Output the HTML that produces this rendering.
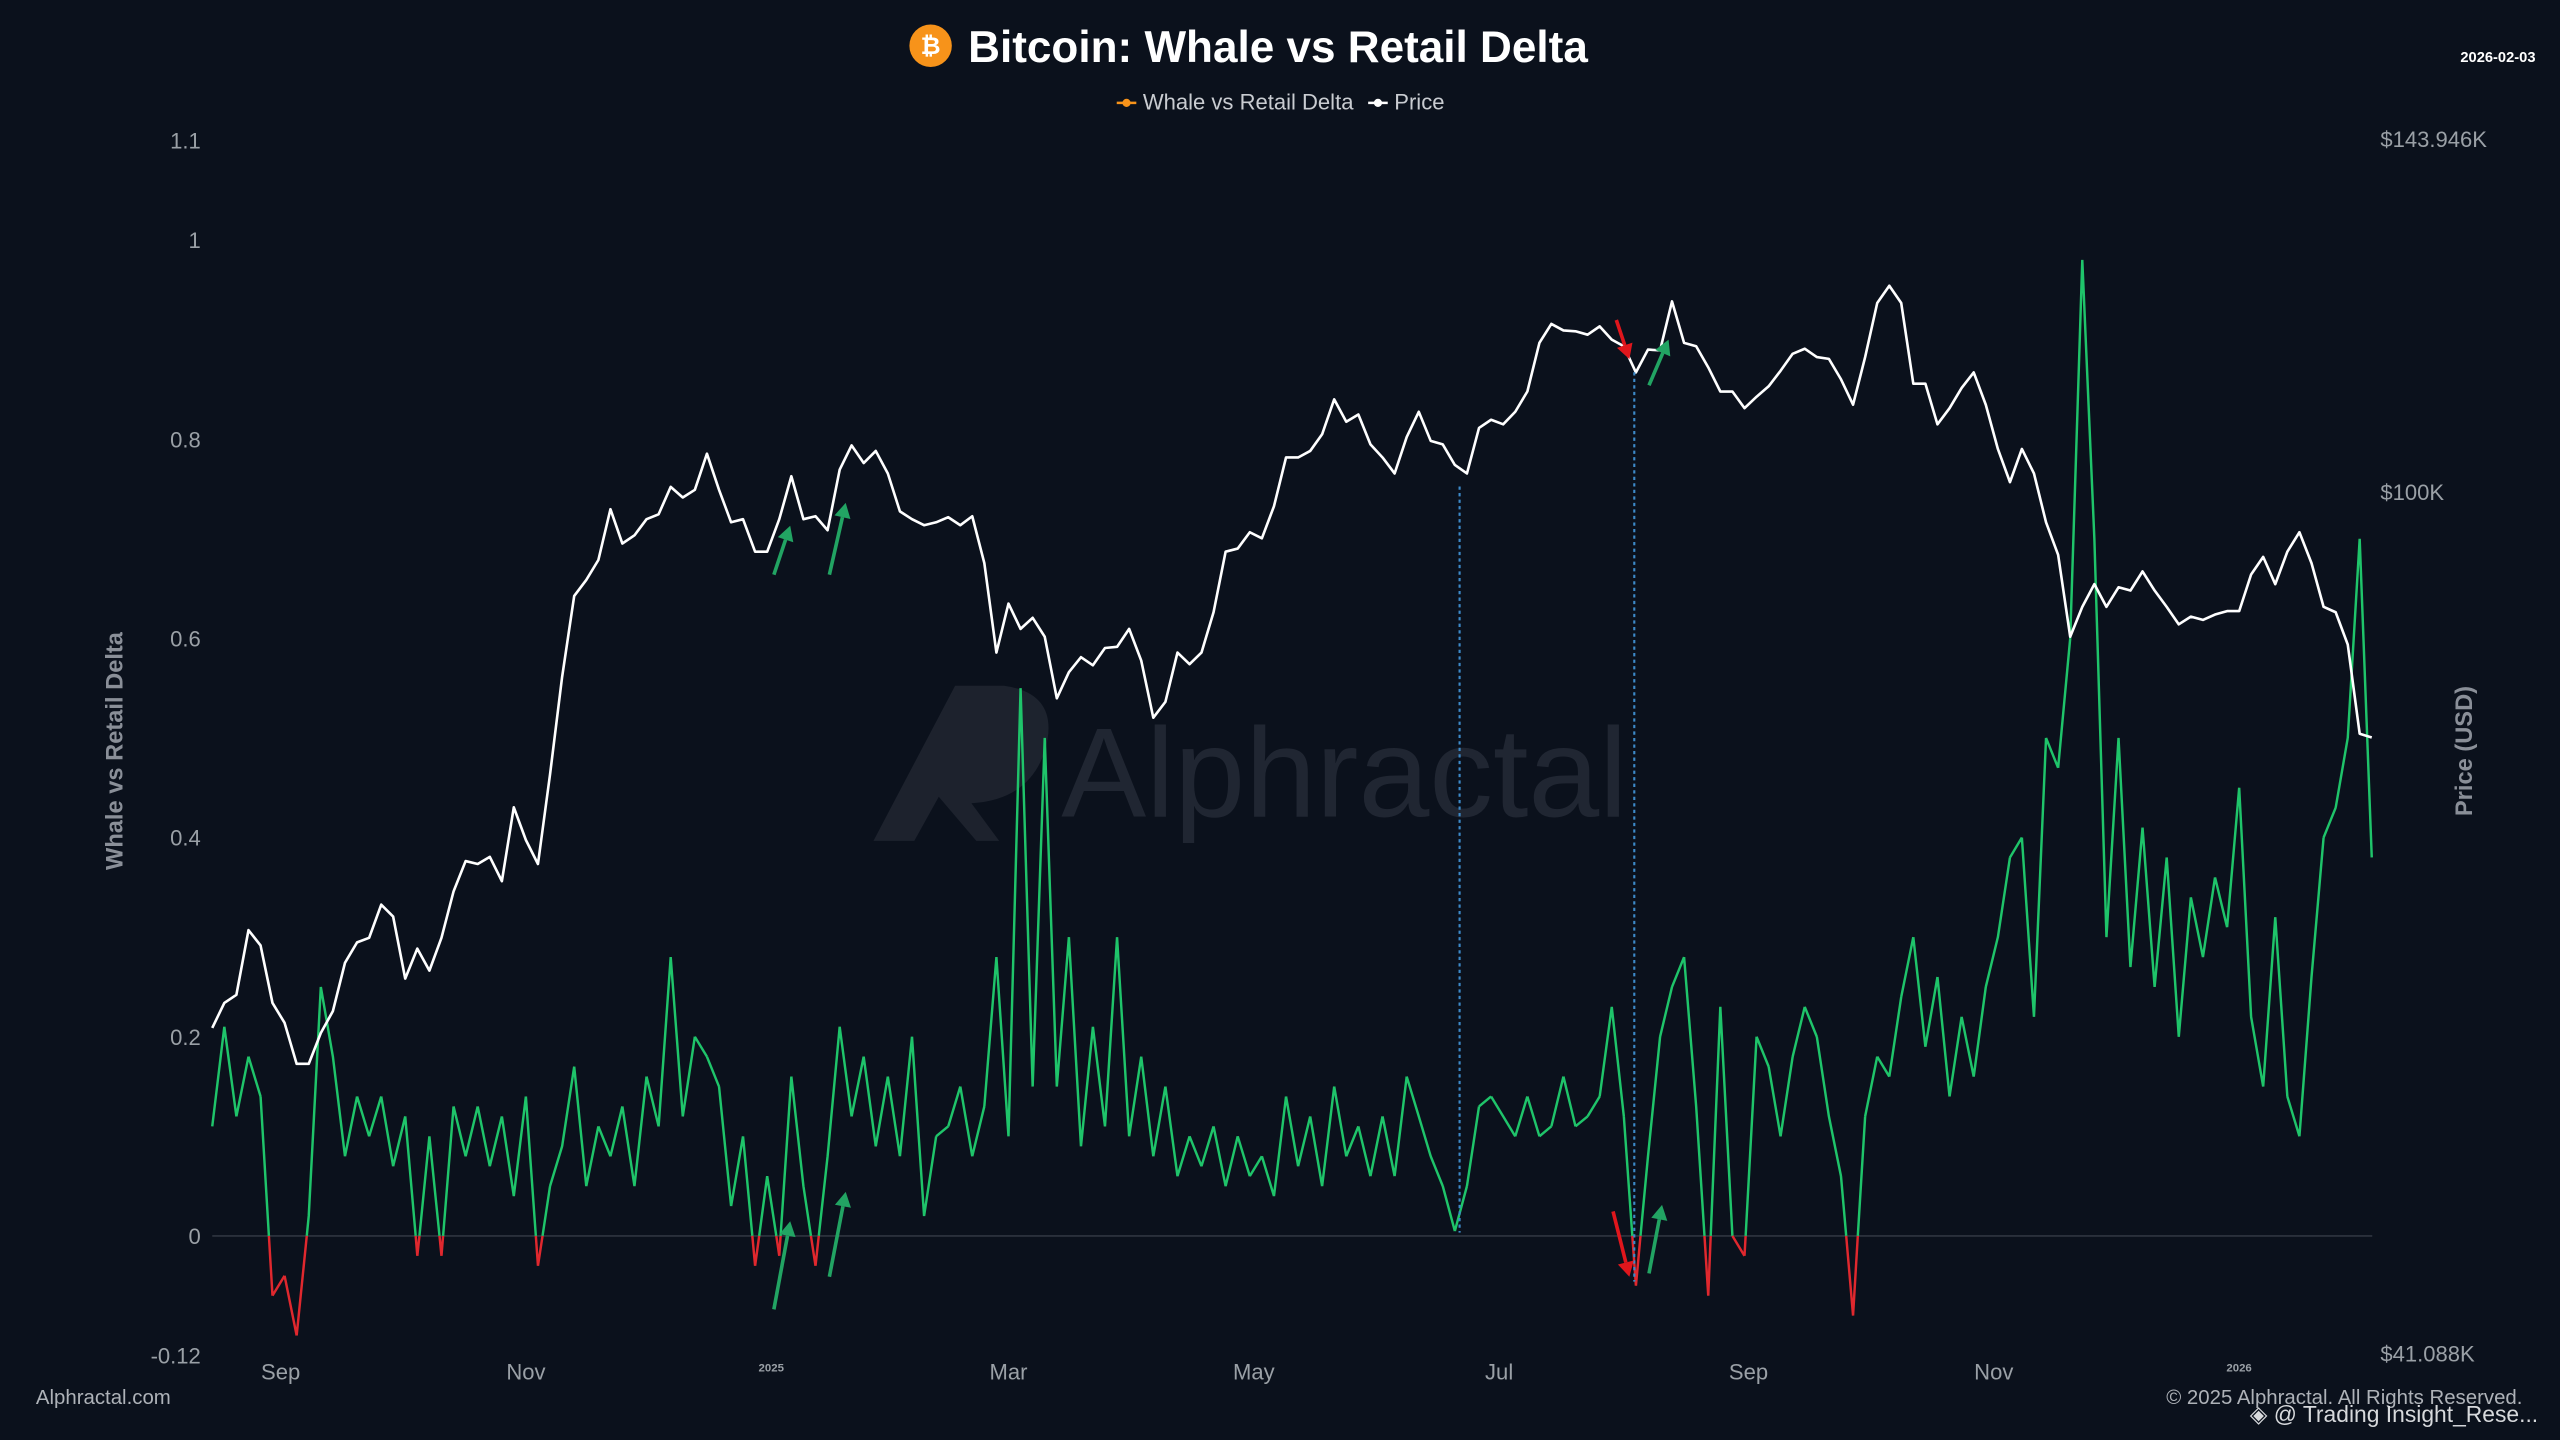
<!DOCTYPE html>
<html><head><meta charset="utf-8"><style>
html,body{margin:0;padding:0;background:#0b111c;}
svg{display:block;}
text{font-family:"Liberation Sans",sans-serif;}
</style></head><body>
<svg id="chart" width="2560" height="1440" viewBox="0 0 1568 882" xmlns="http://www.w3.org/2000/svg">
<rect x="0" y="0" width="1568" height="882" fill="#0b111c"/>
<g opacity="0.9">
<path d="M535 515 L585 420 L615 420 Q650 425 640 460 Q630 490 595 492 L612 515 L598 515 L575 488 L560 515 Z" fill="#1f2530"/>
<text x="650" y="500" font-size="78" fill="#232935">Alphractal</text>
</g>
<g id="grid"></g>
<g id="series"></g>
<g id="annot">
<line x1="894" y1="298" x2="894" y2="755" stroke="#3d8ac9" stroke-width="1.3" stroke-dasharray="2,2"/>
<line x1="1001" y1="228" x2="1001" y2="785" stroke="#3d8ac9" stroke-width="1.3" stroke-dasharray="2,2"/>
</g>
<g>
<circle cx="570" cy="28" r="13" fill="#f7931a"/>
<text x="570" y="33" font-size="15" font-weight="bold" fill="#fff" text-anchor="middle">₿</text>
<text x="593" y="38" font-size="27" font-weight="bold" fill="#ffffff">Bitcoin: Whale vs Retail Delta</text>
</g>
<text x="1553" y="38" font-size="9" font-weight="bold" fill="#ffffff" text-anchor="end">2026-02-03</text>
<g>
<g>
<line x1="684" y1="63" x2="696" y2="63" stroke="#f7931a" stroke-width="1.5"/><circle cx="690" cy="63" r="2.5" fill="#f7931a"/>
<text x="700" y="67" font-size="13.5" fill="#c9ccd1">Whale vs Retail Delta</text></g>
<g>
<line x1="838" y1="63" x2="850" y2="63" stroke="#fff" stroke-width="1.5"/><circle cx="844" cy="63" r="2.5" fill="#fff"/>
<text x="854" y="67" font-size="13.5" fill="#c9ccd1">Price</text></g>
</g>
<text transform="translate(75,460) rotate(-90)" font-size="14.5" font-weight="bold" fill="#8a8f98" text-anchor="middle">Whale vs Retail Delta</text>
<text transform="translate(1514,460) rotate(-90)" font-size="14.5" font-weight="bold" fill="#8a8f98" text-anchor="middle">Price (USD)</text>
<text x="22" y="860" font-size="12.5" fill="#aeb2b8">Alphractal.com</text>
<text x="1545" y="860" font-size="12.5" fill="#aeb2b8" text-anchor="end">© 2025 Alphractal. All Rights Reserved.</text>
<text x="1378" y="871" font-size="14" fill="#d7d9dc">◈ @ Trading Insight_Rese...</text>
</svg>
<script>
const startDate = "2024-08-15";
const stepDays = 3;
const priceK = [57.5,59.0,59.5,63.6,62.6,59.0,57.8,55.4,55.4,57.2,58.5,61.5,62.8,63.1,65.3,64.5,60.5,62.4,61.0,63.1,66.2,68.3,68.1,68.6,66.9,72.2,69.8,68.1,74.7,82.6,89.8,91.3,93.2,98.2,94.8,95.6,97.2,97.7,100.5,99.4,100.2,104.0,100.2,96.9,97.2,94.0,94.0,97.2,101.6,97.2,97.5,96.1,102.3,104.9,103.0,104.3,101.9,98.0,97.2,96.6,96.9,97.4,96.6,97.5,92.9,84.7,89.1,86.8,87.8,86.1,80.8,83.0,84.3,83.6,85.1,85.2,86.8,84.0,79.2,80.5,84.7,83.7,84.7,88.3,94.0,94.3,95.9,95.3,98.5,103.6,103.6,104.3,106.1,110.0,107.5,108.3,105.0,103.6,101.9,105.8,108.6,105.4,105.0,102.8,101.9,106.8,107.7,107.2,108.6,110.9,116.6,118.9,118.1,118.0,117.6,118.6,117.0,116.2,113.1,115.8,115.7,121.7,116.6,116.2,113.7,110.9,110.9,109.0,110.3,111.5,113.3,115.3,115.9,114.9,114.7,112.3,109.4,114.9,121.5,123.7,121.5,111.8,111.8,107.2,109.0,111.3,113.1,109.4,104.5,101.0,104.5,101.9,96.9,93.7,86.1,88.8,90.9,88.8,90.6,90.3,92.1,90.3,88.8,87.2,87.9,87.6,88.1,88.4,88.4,91.8,93.5,90.9,94.0,95.9,92.9,88.8,88.3,85.4,77.9,77.6];
const delta = [0.11,0.21,0.12,0.18,0.14,-0.06,-0.04,-0.10,0.02,0.25,0.18,0.08,0.14,0.10,0.14,0.07,0.12,-0.02,0.10,-0.02,0.13,0.08,0.13,0.07,0.12,0.04,0.14,-0.03,0.05,0.09,0.17,0.05,0.11,0.08,0.13,0.05,0.16,0.11,0.28,0.12,0.20,0.18,0.15,0.03,0.10,-0.03,0.06,-0.02,0.16,0.05,-0.03,0.08,0.21,0.12,0.18,0.09,0.16,0.08,0.20,0.02,0.10,0.11,0.15,0.08,0.13,0.28,0.10,0.55,0.15,0.50,0.15,0.30,0.09,0.21,0.11,0.30,0.10,0.18,0.08,0.15,0.06,0.10,0.07,0.11,0.05,0.10,0.06,0.08,0.04,0.14,0.07,0.12,0.05,0.15,0.08,0.11,0.06,0.12,0.06,0.16,0.12,0.08,0.05,0.005,0.05,0.13,0.14,0.12,0.10,0.14,0.10,0.11,0.16,0.11,0.12,0.14,0.23,0.12,-0.05,0.08,0.20,0.25,0.28,0.13,-0.06,0.23,0.00,-0.02,0.20,0.17,0.10,0.18,0.23,0.20,0.12,0.06,-0.08,0.12,0.18,0.16,0.24,0.30,0.19,0.26,0.14,0.22,0.16,0.25,0.30,0.38,0.40,0.22,0.50,0.47,0.60,0.98,0.70,0.30,0.50,0.27,0.41,0.25,0.38,0.20,0.34,0.28,0.36,0.31,0.45,0.22,0.15,0.32,0.14,0.10,0.26,0.40,0.43,0.50,0.70,0.38];
const leftTicks = [1.1,1,0.8,0.6,0.4,0.2,0,-0.12];
const leftTickLabels = ["1.1","1","0.8","0.6","0.4","0.2","0","-0.12"];
const rightTicks = [143.946,100,41.088];
const rightTickLabels = ["$143.946K","$100K","$41.088K"];
const monthTicks = ["2024-09-01","2024-11-01","2025-01-01","2025-03-01","2025-05-01","2025-07-01","2025-09-01","2025-11-01","2026-01-01"];
const monthLabels = ["Sep","Nov","2025","Mar","May","Jul","Sep","Nov","2026"];

const NS="http://www.w3.org/2000/svg";
const DAY=86400000, t0=Date.parse(startDate);
const PX_PER_DAY=2.4632, X0=130, X1=1453;
function xScale(t){return X0+(t-t0)/DAY*PX_PER_DAY;}
function xIdx(i){return xScale(t0+i*stepDays*DAY);}
function yL(v){return 757-v*610;}
const LMIN=Math.log(41.088),LMAX=Math.log(143.946);
function yR(p){return 829-(Math.log(p)-LMIN)/(LMAX-LMIN)*744;}
function mk(tag,attrs,parent){const e=document.createElementNS(NS,tag);for(const k in attrs)e.setAttribute(k,attrs[k]);parent.appendChild(e);return e;}
const grid=document.getElementById('grid'), ser=document.getElementById('series'), svg=document.getElementById('chart');

leftTicks.forEach((v,i)=>{
  const t=mk('text',{x:123,y:yL(v)+5,'font-size':13.5,fill:'#9aa0a6','text-anchor':'end'},svg);
  
  
  t.textContent=leftTickLabels[i];
});
rightTicks.forEach((v,i)=>{
  const t=mk('text',{x:1458,y:yR(v)+5,'font-size':13.5,fill:'#9aa0a6'},svg);
  
  
  t.textContent=rightTickLabels[i];
});
const zl=mk('line',{x1:X0,x2:X1,y1:yL(0),y2:yL(0),stroke:'#2a303b','stroke-width':1.2},grid);


monthTicks.forEach((m,i)=>{
  const x=xScale(Date.parse(m));
  const small=monthLabels[i].length===4;
  const t=mk('text',{x:x,y:small?840:845,'font-size':small?7:13.5,'font-weight':small?'bold':'normal',fill:'#9aa0a6','text-anchor':'middle'},svg);
  
  
  t.textContent=monthLabels[i];
});

// delta line, coloured by sign
let g='',r='';
for(let i=0;i<delta.length-1;i++){
  const xa=xIdx(i),xb=xIdx(i+1),a=delta[i],b=delta[i+1];
  const ya=yL(a),yb=yL(b);
  if((a>=0)===(b>=0)){
    const s=`M${xa.toFixed(1)} ${ya.toFixed(1)}L${xb.toFixed(1)} ${yb.toFixed(1)}`;
    if(a>=0)g+=s;else r+=s;
  }else{
    const f=a/(a-b),xm=xa+(xb-xa)*f,ym=yL(0);
    const s1=`M${xa.toFixed(1)} ${ya.toFixed(1)}L${xm.toFixed(1)} ${ym.toFixed(1)}`;
    const s2=`M${xm.toFixed(1)} ${ym.toFixed(1)}L${xb.toFixed(1)} ${yb.toFixed(1)}`;
    if(a>=0){g+=s1;r+=s2;}else{r+=s1;g+=s2;}
  }
}
const gp=mk('path',{d:g,fill:'none',stroke:'#1fc46a','stroke-width':1.5,'stroke-linejoin':'round'},ser);


const rp=mk('path',{d:r,fill:'none',stroke:'#e0282e','stroke-width':1.5,'stroke-linejoin':'round'},ser);



let pd='';
priceK.forEach((p,i)=>{pd+=(i?'L':'M')+xIdx(i).toFixed(1)+' '+yR(p).toFixed(1);});
const pp=mk('path',{d:pd,fill:'none',stroke:'#ffffff','stroke-width':1.6,'stroke-linejoin':'round'},ser);



// arrows
const annot=document.getElementById('annot');
const arrows=[[474,352,484,322,'#22a463'],[508,352,518,308,'#22a463'],[474,802,484,748,'#22a463'],[508,782,518,730,'#22a463'],[990,196,998,220,'#e0161c'],[1010,236,1022,208,'#22a463'],[988,742,998,782,'#e0161c'],[1010,780,1018,738,'#22a463']];
arrows.forEach(a=>{
  const [x1,y1,x2,y2,c]=a;const dx=x2-x1,dy=y2-y1,L=Math.hypot(dx,dy),ux=dx/L,uy=dy/L;
  const bx=x2-ux*9,by=y2-uy*9;
  const grp=mk('g',{},annot);
  
  
  mk('line',{x1:x1,y1:y1,x2:bx,y2:by,stroke:c,'stroke-width':2.2},grp);
  mk('polygon',{points:`${x2},${y2} ${bx-uy*5},${by+ux*5} ${bx+uy*5},${by-ux*5}`,fill:c},grp);
});
</script>
</body></html>
